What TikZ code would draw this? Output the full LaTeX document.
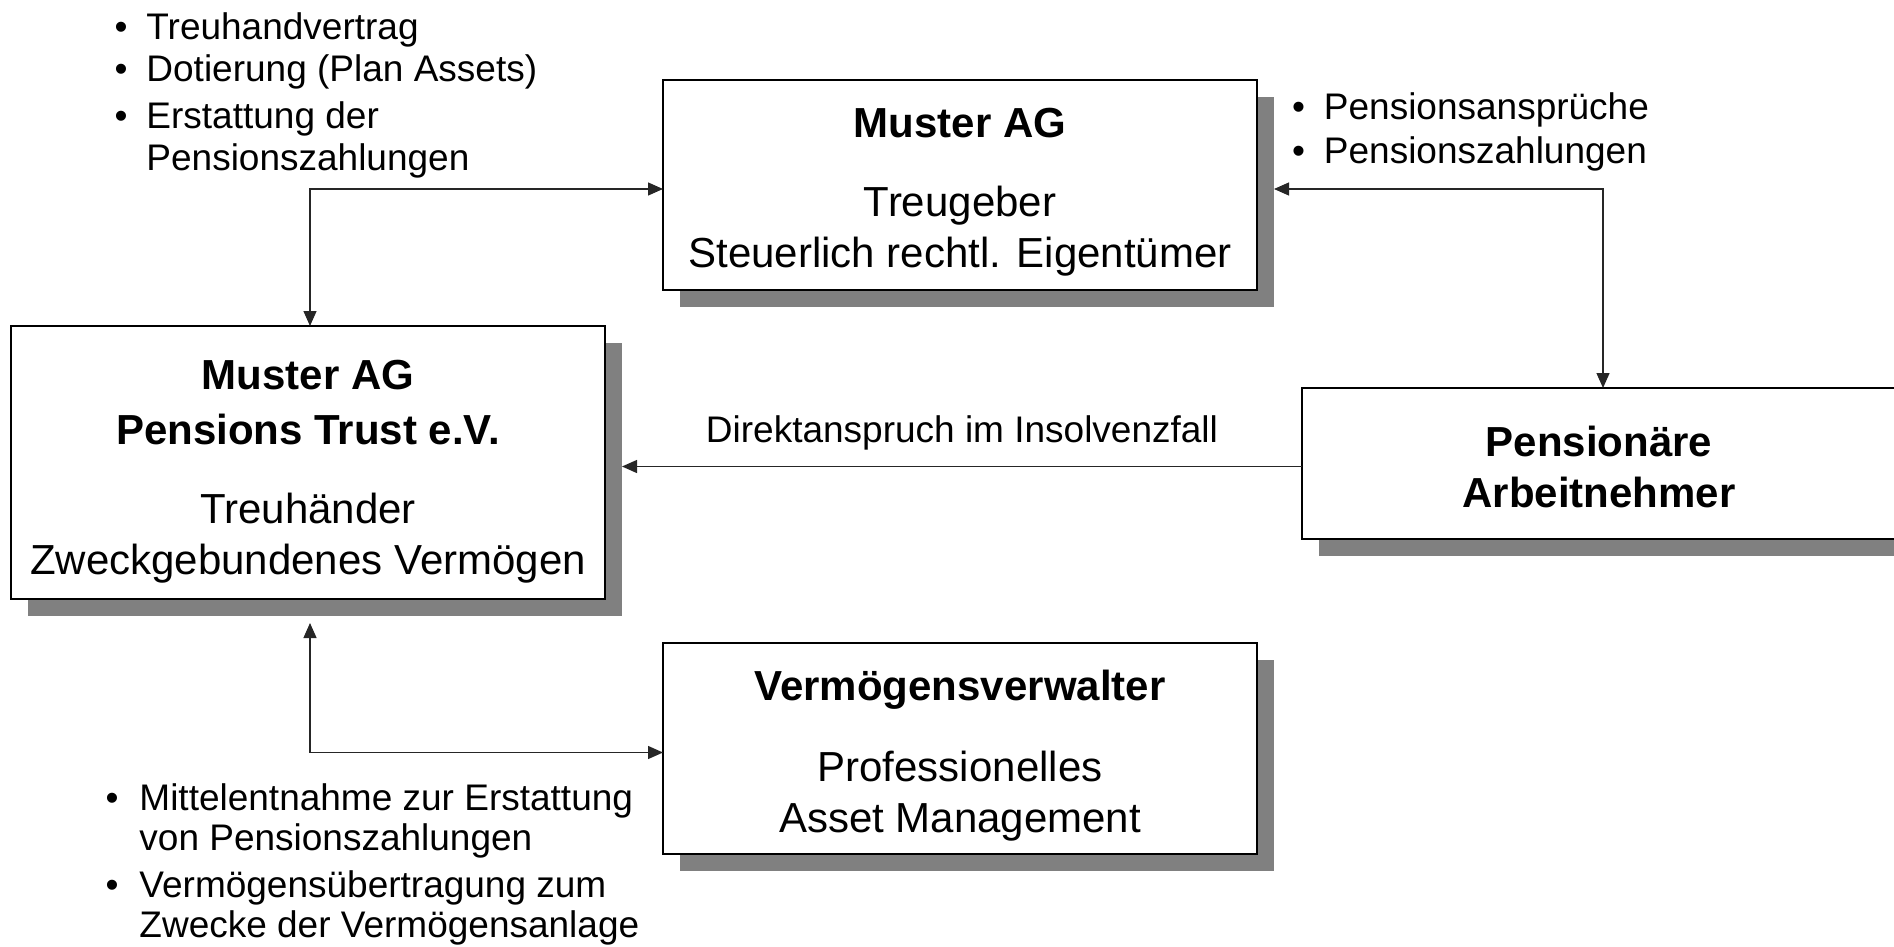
\documentclass[tikz,border=0pt]{standalone}
\usepackage{fontspec}
\setmainfont{Liberation Sans}
\usetikzlibrary{arrows.meta, positioning, shadows}

% empty strut that pushes the first line of a box down
\newcommand{\padtop}[1]{\rule{0pt}{#1}}

\tikzset{
  % parties of the trust model
  partybox/.style={
    rectangle, draw=black, line width=1.5pt, fill=white,
    minimum width=594pt, minimum height=210pt,
    inner sep=0pt, outer sep=0pt, align=center,
    font=\fontsize{42}{51}\selectfont,
    drop shadow={shadow xshift=17pt, shadow yshift=-17pt, opacity=1, fill=black!50}
  },
  % bullet notes beside the connectors
  bulletlist/.style={
    inner sep=0pt, outer sep=0pt,
    font=\fontsize{37}{42}\selectfont
  },
  linkarrow/.style={
    -{Triangle[length=15pt,width=13pt]}, line width=1.3pt, draw=black!85
  },
  biarrow/.style={
    linkarrow, {Triangle[length=15pt,width=13pt]}-{Triangle[length=15pt,width=13pt]}
  }
}

\begin{document}
\begin{tikzpicture}[x=1pt, y=1pt]
  \useasboundingbox (0,0) rectangle (1894,-947);

  % --- Treugeber ---
  \node[partybox] (treugeber) at (960,-185)
    {\padtop{43pt}\textbf{Muster AG}\\[28pt] Treugeber\\ Steuerlich rechtl. Eigentümer};

  % --- Trust ---
  \node[partybox, minimum height=273pt, below left=36pt and 58pt of treugeber] (trust)
    {\padtop{47pt}\textbf{Muster AG}\\[4pt] \textbf{Pensions Trust e.V.}\\[28pt] Treuhänder\\ Zweckgebundenes Vermögen};

  % --- Asset manager ---
  \node[partybox, minimum height=211pt, below right=44pt and 58pt of trust] (verw)
    {\padtop{45pt}\textbf{Vermögensverwalter}\\[30pt] Professionelles\\ Asset Management};

  % --- Pensioners ---
  \node[partybox, minimum height=151pt, below right=98pt and 45pt of treugeber] (pens)
    {\padtop{38pt}\textbf{Pensionäre}\\ \textbf{Arbeitnehmer}};

  % ends of the connectors
  \coordinate (treuIn) at ([yshift=-4pt]treugeber.west);
  \coordinate (treuShadow) at ([xshift=17pt, yshift=-4pt]treugeber.east);
  \coordinate (trustTop) at ([xshift=2pt]trust.north);
  \coordinate (trustShadow) at ([xshift=17pt]trust.east);
  \coordinate (trustBottom) at ([xshift=2pt, yshift=-24pt]trust.south);
  \coordinate (pensTop) at ([xshift=4pt]pens.north);
  \coordinate (pensOut) at ([yshift=-3pt]pens.west);
  \coordinate (verwIn) at ([yshift=-4pt]verw.west);

  % connectors
  \draw[biarrow] (trustTop) |- (treuIn);
  \draw[biarrow] (treuShadow) -| (pensTop);
  \draw[linkarrow] (pensOut) -- (trustShadow |- pensOut)
    node[midway, above=16pt, inner sep=0pt, font=\fontsize{37}{42}\selectfont]
    {Direktanspruch im Insolvenzfall};
  \draw[biarrow] (trustBottom) |- (verwIn);

  % notes
  \node[bulletlist, anchor=base west] (notesTrust) at (114.5,-40)
    {\begin{tabular}[t]{@{}l@{\hspace{19pt}}l@{}}
      \textbullet & Treuhandvertrag\\
      \textbullet & Dotierung (Plan Assets)\\[5pt]
      \textbullet & Erstattung der\\
                  & Pensionszahlungen
    \end{tabular}};
  \node[bulletlist, anchor=base west] (notesPens) at (1292,-119.5)
    {\begin{tabular}[t]{@{}l@{\hspace{19pt}}l@{}}
      \textbullet & Pensionsansprüche\\[2pt]
      \textbullet & Pensionszahlungen
    \end{tabular}};
  \node[bulletlist, anchor=base west, font=\fontsize{37}{40}\selectfont] (notesVerw) at (105.5,-810)
    {\begin{tabular}[t]{@{}l@{\hspace{21pt}}l@{}}
      \textbullet & Mittelentnahme zur Erstattung\\
                  & von Pensionszahlungen\\[7pt]
      \textbullet & Vermögensübertragung zum\\
                  & Zwecke der Vermögensanlage
    \end{tabular}};

\end{tikzpicture}
\end{document}
